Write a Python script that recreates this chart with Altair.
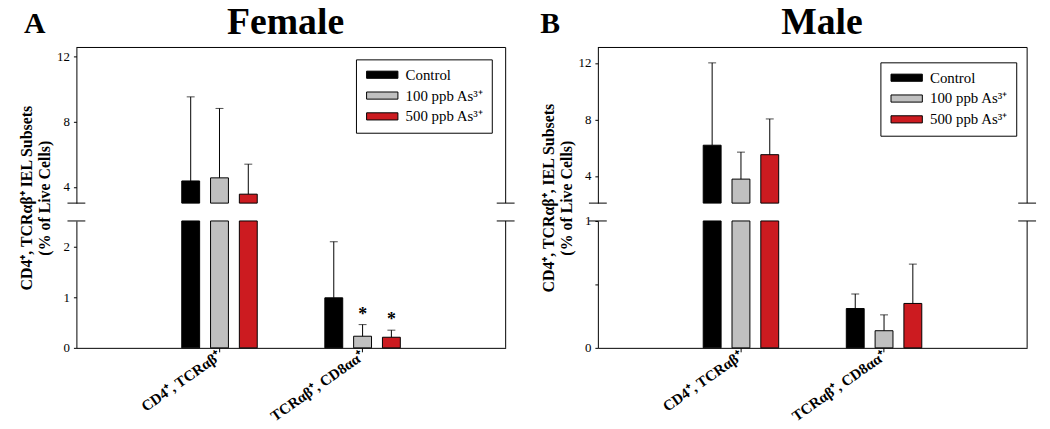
import altair as alt
import pandas as pd

# ---- data ----
groups = ["CD4⁺, TCRαβ⁺", "TCRαβ⁺, CD8αα⁺"]
series = ["Control", "100 ppb As³⁺", "500 ppb As³⁺"]
colors = ["#000000", "#c0c0c0", "#cc1b20"]

female_mean = [4.36, 4.55, 3.55, 0.99, 0.23, 0.21]
female_err = [5.16, 4.26, 1.84, 1.11, 0.23, 0.14]
female_sig = ["", "", "", "", "*", "*"]

male_mean = [6.17, 3.77, 5.50, 0.31, 0.135, 0.35]
male_err = [5.83, 1.91, 2.53, 0.115, 0.125, 0.31]
male_sig = ["", "", "", "", "", ""]

panel_letters = ["A", "B"]
panel_titles = ["Female", "Male"]
female_ytitle = ["CD4⁺, TCRαβ⁺ IEL Subsets", "(% of Live Cells)"]
male_ytitle = ["CD4⁺, TCRαβ⁺, IEL Subsets", "(% of Live Cells)"]

# axis segments (broken axis)
female_upper = [3.0, 12.55]
female_lower = [0, 2.51]
female_upper_ticks = [4, 6, 8, 10, 12]
female_lower_ticks = [0, 0.5, 1, 1.5, 2]
male_upper = [2.07, 13.09]
male_lower = [0, 1.0]
male_upper_ticks = [4, 6, 8, 10, 12]
male_lower_ticks = [0, 0.5, 1]

W = 433
HU = 157
HL = 128
GAP = 18
SERIF = "Liberation Serif"
SWATCH = "M-3.95,-0.9L3.95,-0.9L3.95,0.9L-3.95,0.9Z"


def make_df(means, errs, sig):
    rows = []
    i = 0
    for g in groups:
        for s in series:
            rows.append({"group": g, "series": s, "mean": means[i], "err": errs[i], "sig": sig[i]})
            i += 1
    return pd.DataFrame(rows)


def frame(upper):
    one = pd.DataFrame({"k": [0]})
    base = alt.Chart(one).mark_rule(color="black", strokeWidth=1)
    H = HU if upper else HL
    layers = [base.encode(x=alt.value(W), y=alt.value(0), y2=alt.value(H))]
    yb = H if upper else 0
    layers.append(base.encode(x=alt.value(-9), x2=alt.value(9), y=alt.value(yb)))
    layers.append(base.encode(x=alt.value(W - 9), x2=alt.value(W + 9), y=alt.value(yb)))
    if upper:
        layers.append(base.encode(x=alt.value(0), x2=alt.value(W), y=alt.value(0)))
    return layers


def panel(means, errs, sig, udom, ldom, uticks, lticks, letter, title, ytitle,
          legend_xy, letter_x, title_x, hl):
    df = make_df(means, errs, sig)
    xscale = alt.Scale(domain=groups, paddingInner=0.4, paddingOuter=0.7)
    x_up = alt.X("group:N", sort=groups, axis=None, scale=xscale)
    x_lo = alt.X("group:N", sort=groups, scale=xscale,
                 axis=alt.Axis(title=None, labelAngle=-35, labelAlign="right",
                               labelBaseline="middle", tickSize=4, labelPadding=2,
                               labelFont=SERIF, labelFontSize=15, labelFontWeight="bold"))
    xo = alt.XOffset("series:N", sort=series,
                     scale=alt.Scale(domain=series, paddingInner=0.379, paddingOuter=0.18))
    fill_leg = alt.Fill("series:N", sort=series,
                        scale=alt.Scale(domain=series, range=colors),
                        legend=alt.Legend(title=None, orient="none",
                                          legendX=legend_xy[0], legendY=legend_xy[1],
                                          symbolType=SWATCH, symbolSize=64,
                                          symbolOffset=11,
                                          symbolStrokeColor="black",
                                          symbolStrokeWidth=1, labelFont=SERIF,
                                          labelFontSize=15, labelOffset=16,
                                          fillColor="white", strokeColor="black",
                                          padding=8, rowPadding=5))
    fill_plain = alt.Fill("series:N", sort=series,
                          scale=alt.Scale(domain=series, range=colors), legend=None)

    yu = alt.Scale(domain=udom, clamp=True, zero=False, nice=False)
    yl = alt.Scale(domain=ldom, clamp=True, zero=False, nice=False)

    ax_up = alt.Axis(values=uticks, labelExpr="datum.value % 4 == 0 ? format(datum.value, 'd') : ''",
                     tickSize=3, labelPadding=4, labelOverlap=False, title=ytitle,
                     titleAngle=270, titleAlign="center", titleBaseline="bottom",
                     titleX=-42, titleY=(HU + GAP + hl) / 2, titleLineHeight=18)
    ax_lo = alt.Axis(values=lticks, labelExpr="datum.value % 1 == 0 ? format(datum.value, 'd') : ''",
                     tickSize=3, labelPadding=4, labelOverlap=False, title=None)

    src = alt.Chart(df).transform_calculate(hi="datum.mean + datum.err")

    # ---- upper segment ----
    up = src.transform_filter(f"datum.mean > {udom[0]}")
    up_bars = up.mark_bar(stroke="black", strokeWidth=1).encode(
        x=x_up, xOffset=xo, y=alt.Y("mean:Q", scale=yu, axis=ax_up), fill=fill_leg)
    up_rule = up.mark_rule(color="black", strokeWidth=1).encode(
        x=x_up, xOffset=xo, y="mean:Q", y2="hi:Q")
    up_cap = up.mark_tick(color="black", size=8, thickness=1).encode(
        x=x_up, xOffset=xo, y="hi:Q")
    tdf = pd.DataFrame({"t": [letter]})
    ttl = pd.DataFrame({"t": [title]})
    letter_txt = alt.Chart(tdf).mark_text(font=SERIF, fontSize=30, fontWeight="bold",
                                          align="center", baseline="alphabetic").encode(
        text="t:N", x=alt.value(letter_x), y=alt.value(-15))
    title_txt = alt.Chart(ttl).mark_text(font=SERIF, fontSize=38, fontWeight="bold",
                                         align="center", baseline="alphabetic").encode(
        text="t:N", x=alt.value(title_x), y=alt.value(-14))
    upper = alt.layer(up_bars, up_rule, up_cap, *frame(True), letter_txt, title_txt
                      ).properties(width=W, height=HU)

    # ---- lower segment ----
    lo_err = src.transform_filter(f"datum.mean < {ldom[1]}")
    lo_bars = src.mark_bar(stroke="black", strokeWidth=1).encode(
        x=x_lo, xOffset=xo, y=alt.Y("mean:Q", scale=yl, axis=ax_lo), fill=fill_plain)
    lo_rule = lo_err.mark_rule(color="black", strokeWidth=1).encode(
        x=x_lo, xOffset=xo, y="mean:Q", y2="hi:Q")
    lo_cap = lo_err.mark_tick(color="black", size=8, thickness=1).encode(
        x=x_lo, xOffset=xo, y="hi:Q")
    lo_sig = lo_err.transform_filter("datum.sig != ''").mark_text(
        font=SERIF, fontSize=18, fontWeight="bold", dy=-1, baseline="bottom").encode(
        x=x_lo, xOffset=xo, y="hi:Q", text="sig:N")
    lower = alt.layer(lo_bars, lo_rule, lo_cap, lo_sig, *frame(False)
                      ).properties(width=W, height=hl)

    return alt.vconcat(upper, lower, spacing=GAP, bounds="flush").resolve_scale(
        y="independent", fill="independent").resolve_legend(fill="independent")


female = panel(female_mean, female_err, female_sig, female_upper, female_lower,
               female_upper_ticks, female_lower_ticks, panel_letters[0], panel_titles[0],
               female_ytitle, (282, 12), -42, 211, HL)
male = panel(male_mean, male_err, male_sig, male_upper, male_lower,
             male_upper_ticks, male_lower_ticks, panel_letters[1], panel_titles[1],
             male_ytitle, (285, 15), -48, 226, HL)

chart = alt.hconcat(female, male, spacing=24).resolve_scale(
    y="independent", x="independent", fill="independent"
).resolve_legend(fill="independent").properties(
    padding={"left": 11, "top": -6, "right": 5, "bottom": 0}
).configure_view(stroke=None).configure_axis(
    domainColor="black", tickColor="black", labelColor="black", titleColor="black",
    grid=False, labelFont=SERIF, labelFontSize=13, titleFont=SERIF, titleFontSize=16,
    titleFontWeight="bold", domainWidth=1, tickWidth=1
).configure_legend(labelColor="black")

chart.save("out.html", embed_options={"renderer": "svg", "actions": False})
